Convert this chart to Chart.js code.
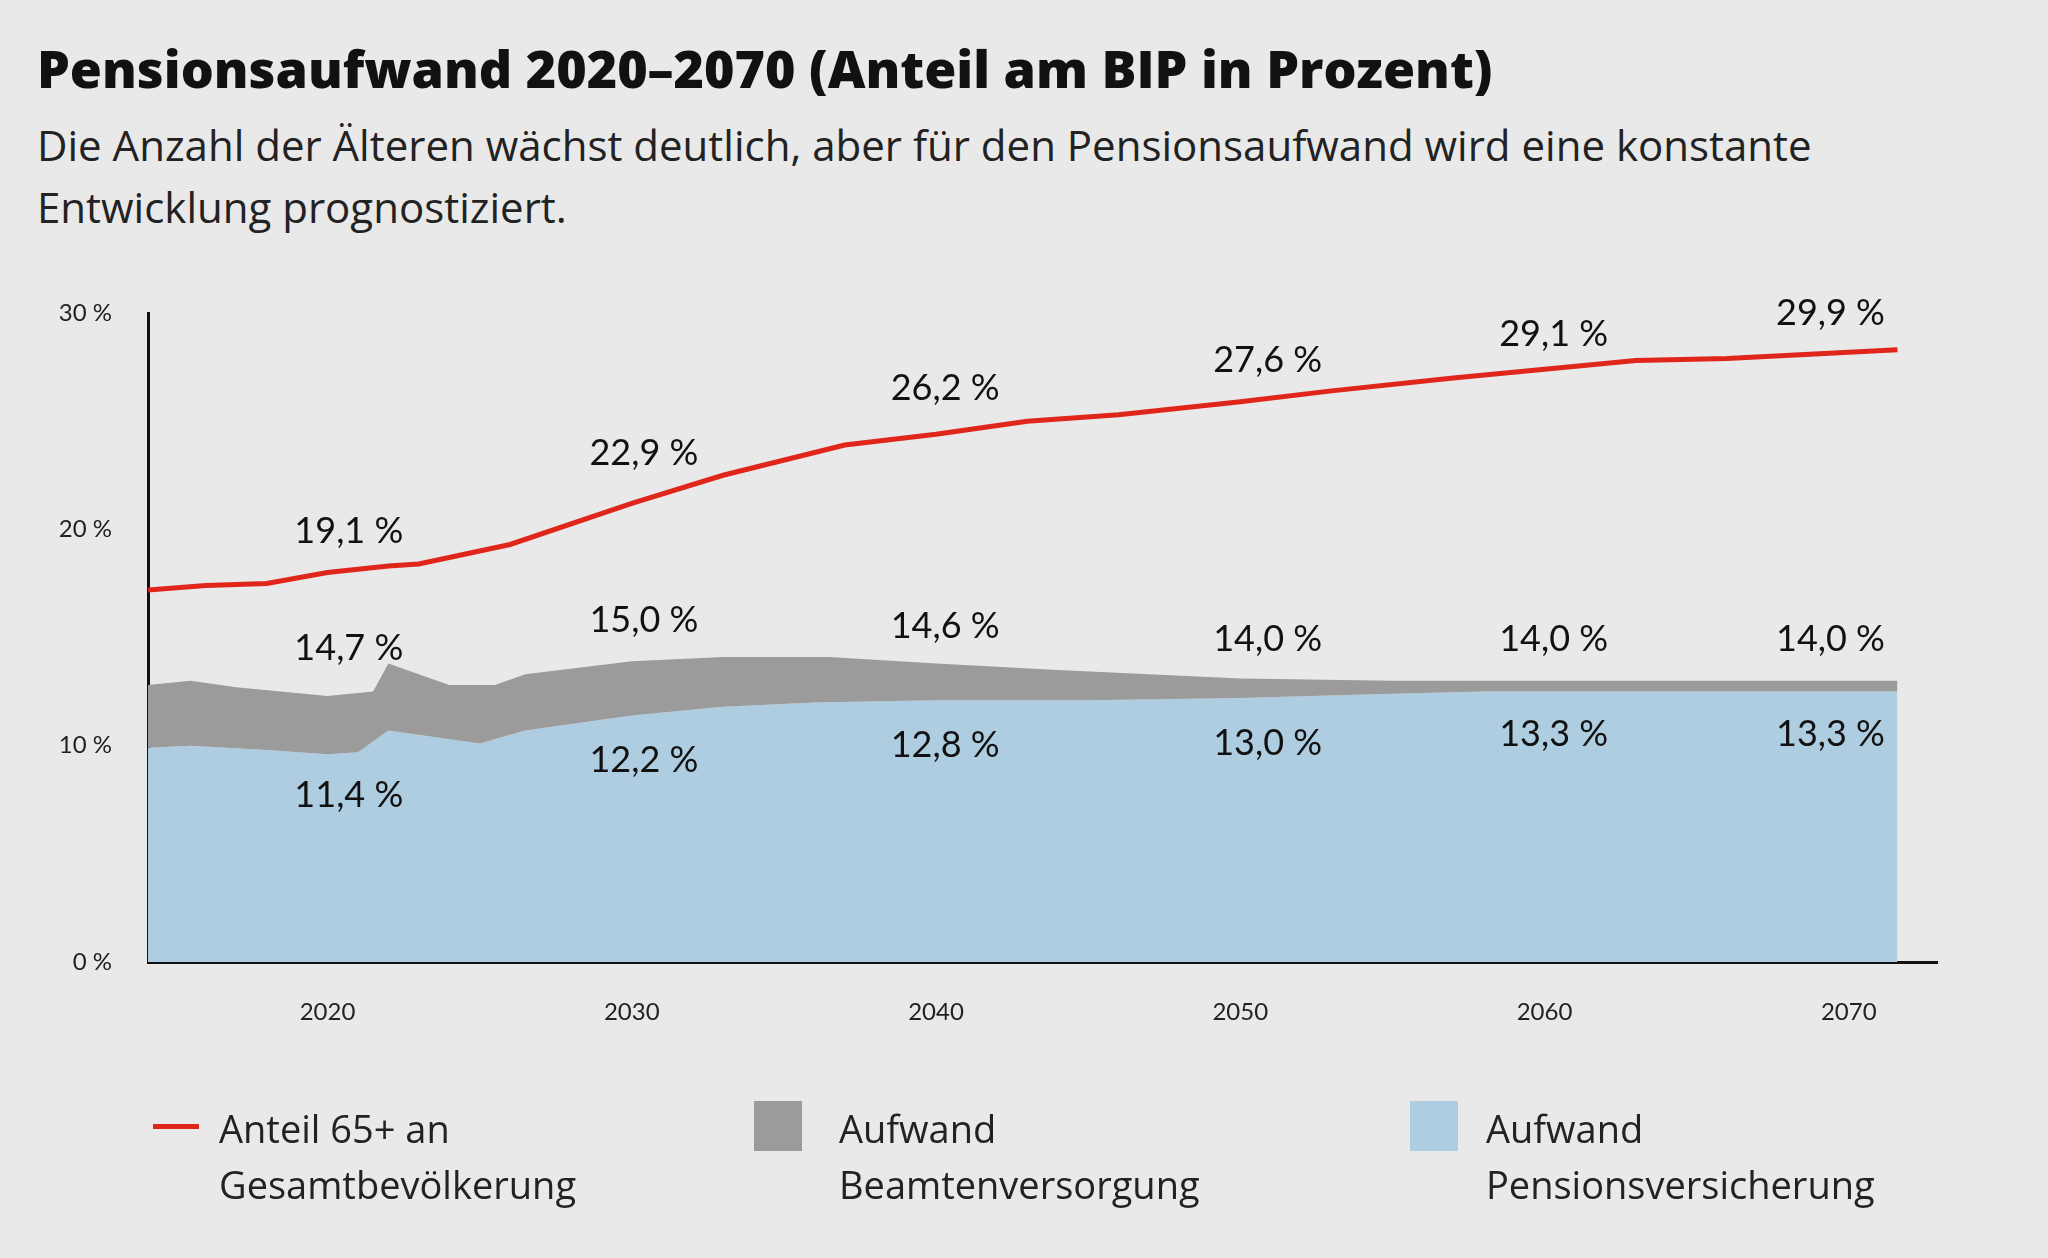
<!DOCTYPE html>
<html><head><meta charset="utf-8">
<script src="https://cdn.jsdelivr.net/npm/chart.js@4"></script>
<style>
html,body{margin:0;padding:0;background:#e9e9e9;width:2048px;height:1258px;overflow:hidden;font-family:"Open Sans",sans-serif;color:#111}
#t{position:absolute;left:37px;top:32px;font-size:52px;font-weight:800;letter-spacing:0px}
#s{position:absolute;left:37px;top:114px;font-size:42px;line-height:62px;color:#222}
#c{position:absolute;left:0;top:0}
.lg{position:absolute;top:1100px;font-size:38px;line-height:56px;color:#222}
.sw{position:absolute}
</style></head><body>
<div id="t">Pensionsaufwand 2020–2070 (Anteil am BIP in Prozent)</div>
<div id="s">Die Anzahl der Älteren wächst deutlich, aber für den Pensionsaufwand wird eine konstante<br>Entwicklung prognostiziert.</div>
<canvas id="c" width="2048" height="1258"></canvas>
<div class="sw" style="left:153px;top:1124px;width:46px;height:5px;background:#e0261b"></div>
<div class="lg" style="left:219px">Anteil 65+ an<br>Gesamtbevölkerung</div>
<div class="sw" style="left:754px;top:1101px;width:48px;height:50px;background:#9b9b9b"></div>
<div class="lg" style="left:839px">Aufwand<br>Beamtenversorgung</div>
<div class="sw" style="left:1410px;top:1101px;width:48px;height:50px;background:#afcde0"></div>
<div class="lg" style="left:1486px">Aufwand<br>Pensionsversicherung</div>
<script>
const redYears=[2014.1,2016,2018,2020,2022,2023,2026,2030,2033,2037,2040,2043,2046,2050,2053,2057,2060,2063,2066,2071.6];
const redValues=[17.2,17.4,17.5,18.0,18.3,18.4,19.3,21.2,22.5,23.9,24.4,25.0,25.3,25.9,26.4,27.0,27.4,27.8,27.9,28.3];
const blueYears=[2014.1,2015.5,2018,2020,2021,2022,2023.5,2025,2026.5,2030,2033,2036,2040,2045,2050,2055,2058,2071.6];
const blueValues=[9.9,10.0,9.8,9.6,9.7,10.7,10.4,10.1,10.7,11.4,11.8,12.0,12.1,12.1,12.2,12.4,12.5,12.5];
const totalYears=[2014.1,2015.5,2017,2020,2021.5,2022,2023,2024,2025.5,2026.5,2030,2033,2036.5,2040,2044,2047,2050,2055,2071.6];
const totalValues=[12.8,13.0,12.7,12.3,12.5,13.8,13.3,12.8,12.8,13.3,13.9,14.1,14.1,13.8,13.5,13.3,13.1,13.0,13.0];
const xTicks=[2020,2030,2040,2050,2060,2070];
const yTicks=[0,10,20,30];
const labelYears=[2020.7,2030.4,2040.3,2050.9,2060.3,2069.4];
const redLabels=["19,1 %","22,9 %","26,2 %","27,6 %","29,1 %","29,9 %"];
const redLabelY=[19.9,23.5,26.5,27.8,29.0,30.0];
const grayLabels=["14,7 %","15,0 %","14,6 %","14,0 %","14,0 %","14,0 %"];
const grayLabelY=[14.5,15.8,15.5,14.9,14.9,14.9];
const blueLabels=["11,4 %","12,2 %","12,8 %","13,0 %","13,3 %","13,3 %"];
const blueLabelY=[7.7,9.3,10.0,10.1,10.5,10.5];
const pts=(xs,ys)=>xs.map((x,i)=>({x,y:ys[i]}));
const labelsPlugin={id:'vl',afterDatasetsDraw(ch){const c=ch.ctx,xs=ch.scales.x,ys=ch.scales.y;c.save();c.font='36px Lato, sans-serif';c.fillStyle='#111';c.textAlign='center';c.textBaseline='middle';
[[redLabels,redLabelY],[grayLabels,grayLabelY],[blueLabels,blueLabelY]].forEach(([t,v])=>t.forEach((s,i)=>c.fillText(s,xs.getPixelForValue(labelYears[i]),ys.getPixelForValue(v[i]))));c.restore();}};
new Chart(document.getElementById('c'),{type:'line',
data:{datasets:[
{data:pts(redYears,redValues),borderColor:'#e0261b',borderWidth:5,pointRadius:0,fill:false,order:0},
{data:pts(blueYears,blueValues),borderWidth:0,borderColor:'rgba(0,0,0,0)',backgroundColor:'#afcde0',pointRadius:0,fill:'origin',order:2},
{data:pts(totalYears,totalValues),borderWidth:0,borderColor:'rgba(0,0,0,0)',backgroundColor:'#9b9b9b',pointRadius:0,fill:'-1',order:1}
]},
options:{responsive:false,animation:false,events:[],
layout:{padding:{left:0,top:313,right:111,bottom:226}},
plugins:{legend:{display:false},tooltip:{enabled:false}},
scales:{
x:{type:'linear',min:2014.1,max:2072.9,afterFit:s=>{s.height=70},afterBuildTicks:s=>{s.ticks=xTicks.map(v=>({value:v}))},
grid:{display:false},border:{color:'#111',width:3},ticks:{color:'#222',font:{size:24,family:'Lato'},padding:28,callback:v=>String(v)}},
y:{min:0,max:30,afterFit:s=>{s.width=148},afterBuildTicks:s=>{s.ticks=yTicks.map(v=>({value:v}))},
grid:{display:false},border:{color:'#111',width:3},ticks:{color:'#222',font:{size:24,family:'Lato'},padding:28,callback:v=>v+' %'}}
}},plugins:[labelsPlugin]});
</script></body></html>
